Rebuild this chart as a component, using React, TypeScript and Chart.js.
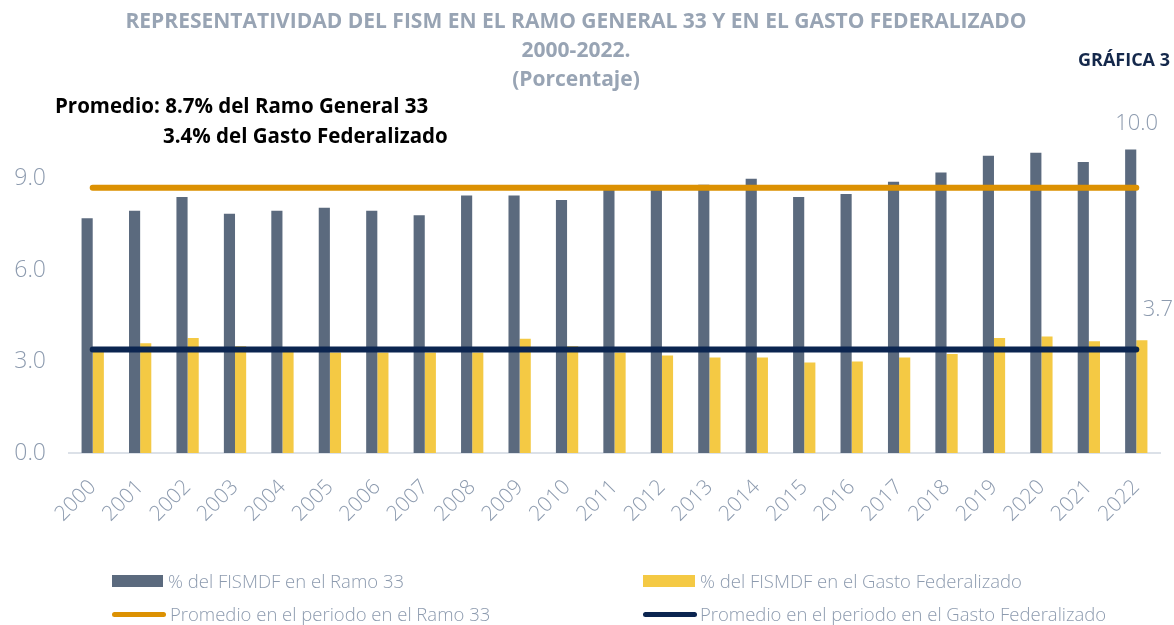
import React, { useEffect, useRef } from "react";
import { Chart, registerables } from "chart.js";

Chart.register(...registerables);

const categories = [
  "2000", "2001", "2002", "2003", "2004", "2005", "2006", "2007", "2008", "2009", "2010", "2011",
  "2012", "2013", "2014", "2015", "2016", "2017", "2018", "2019", "2020", "2021", "2022",
];
const ramo33 = [
  7.7, 7.95, 8.4, 7.85, 7.95, 8.05, 7.95, 7.8, 8.45, 8.45, 8.3, 8.65,
  8.65, 8.8, 9.0, 8.4, 8.5, 8.9, 9.2, 9.75, 9.85, 9.55, 9.96,
];
const gastoFederalizado = [
  3.35, 3.6, 3.77, 3.5, 3.35, 3.3, 3.3, 3.3, 3.3, 3.75, 3.5, 3.3,
  3.2, 3.13, 3.13, 2.97, 3.0, 3.13, 3.25, 3.77, 3.82, 3.67, 3.7,
];
const promedioRamo33 = 8.7;
const promedioGasto = 3.4;
const yTicks = [0, 3, 6, 9];

const seriesNames = [
  "% del FISMDF en el Ramo 33",
  "% del FISMDF en el Gasto Federalizado",
  "Promedio en el periodo en el Ramo 33",
  "Promedio en el periodo en el Gasto Federalizado",
];

const GRAY = "#5B6A7E";
const YELLOW = "#F4C944";
const ORANGE = "#DC9102";
const NAVY = "#0B2550";
const TICK = "#8D9BAF";
const FONT = "'Open Sans', 'Noto Sans', sans-serif";

const endLabels = {
  id: "endLabels",
  afterDatasetsDraw(chart: any) {
    const ctx = chart.ctx;
    const last = categories.length - 1;
    const offs: [number, number, number][] = [[0, 6, 26], [1, 16, 31]];
    offs.forEach(([di, dx, dy]) => {
      const el = chart.getDatasetMeta(di).data[last];
      const v = chart.data.datasets[di].data[last] as number;
      ctx.save();
      ctx.font = `300 22px ${FONT}`;
      ctx.fillStyle = TICK;
      ctx.textAlign = "center";
      ctx.textBaseline = "middle";
      ctx.fillText(v.toFixed(1), el.x + dx, el.y - dy);
      ctx.restore();
    });
  },
};

export default function App() {
  const ref = useRef<HTMLCanvasElement>(null);

  useEffect(() => {
    document.body.style.margin = "0";
    const chart = new Chart(ref.current!, {
      type: "bar",
      data: {
        labels: categories,
        datasets: [
          {
            type: "bar",
            label: seriesNames[0],
            data: ramo33,
            backgroundColor: GRAY,
            order: 2,
            categoryPercentage: 0.47,
            barPercentage: 1,
          },
          {
            type: "bar",
            label: seriesNames[1],
            data: gastoFederalizado,
            backgroundColor: YELLOW,
            order: 2,
            categoryPercentage: 0.47,
            barPercentage: 1,
          },
          {
            type: "line",
            label: seriesNames[2],
            data: categories.map(() => promedioRamo33),
            borderColor: ORANGE,
            backgroundColor: ORANGE,
            borderWidth: 6,
            borderCapStyle: "round",
            pointRadius: 0,
            order: 1,
          },
          {
            type: "line",
            label: seriesNames[3],
            data: categories.map(() => promedioGasto),
            borderColor: NAVY,
            backgroundColor: NAVY,
            borderWidth: 6,
            borderCapStyle: "round",
            pointRadius: 0,
            order: 0,
          },
        ] as any,
      },
      options: {
        animation: false,
        responsive: false,
        maintainAspectRatio: false,
        layout: { padding: { left: 0, right: 14, top: 133, bottom: 0 } },
        plugins: {
          legend: { display: false },
          title: { display: false },
          tooltip: { enabled: false },
        },
        scales: {
          x: {
            grid: { display: false },
            border: { display: true, color: "#DCE1E8", width: 2 },
            ticks: {
              color: TICK,
              font: { family: FONT, size: 21, weight: "300" as any },
              minRotation: 45,
              maxRotation: 45,
              autoSkip: false,
              padding: 14,
            },
            afterFit: (s: any) => {
              s.height = 172;
            },
          },
          y: {
            min: 0,
            max: 10.5,
            grid: { display: false, drawTicks: false },
            border: { display: false },
            afterBuildTicks: (s: any) => {
              s.ticks = yTicks.map((v) => ({ value: v }));
            },
            ticks: {
              color: TICK,
              font: { family: FONT, size: 23, weight: "300" as any },
              padding: 23,
              callback: (v: any) => Number(v).toFixed(1),
            },
            afterFit: (s: any) => {
              s.width = 69;
            },
          },
        },
      },
      plugins: [endLabels],
    });
    return () => chart.destroy();
  }, []);

  const legendText: React.CSSProperties = {
    position: "absolute",
    fontFamily: FONT,
    fontWeight: 300,
    fontSize: 18.5,
    color: TICK,
    whiteSpace: "nowrap",
    lineHeight: "20px",
  };

  return (
    <div style={{ position: "relative", width: 1174, height: 625, overflow: "hidden", background: "#fff" }}>
      <canvas ref={ref} width={1174} height={625} style={{ position: "absolute", left: 0, top: 0 }} />
      <div
        style={{
          position: "absolute",
          left: 0,
          width: 1152,
          top: 6,
          textAlign: "center",
          fontFamily: FONT,
          fontWeight: 700,
          fontSize: 21,
          lineHeight: "29px",
          color: "#98A4B4",
          whiteSpace: "nowrap",
        }}
      >
        <div>REPRESENTATIVIDAD DEL FISM EN EL RAMO GENERAL 33 Y EN EL GASTO FEDERALIZADO</div>
        <div>2000-2022.</div>
        <div>(Porcentaje)</div>
      </div>
      <div
        style={{
          position: "absolute",
          right: 4,
          top: 46,
          fontFamily: FONT,
          fontWeight: 700,
          fontSize: 18,
          lineHeight: "26px",
          color: "#14284B",
        }}
      >
        GRÁFICA 3
      </div>
      <div
        style={{
          position: "absolute",
          left: 55,
          top: 90,
          fontFamily: FONT,
          fontWeight: 700,
          fontSize: 20.5,
          lineHeight: "30px",
          color: "#000",
          whiteSpace: "nowrap",
        }}
      >
        <div>Promedio: 8.7% del Ramo General 33</div>
        <div style={{ paddingLeft: 108 }}>3.4% del Gasto Federalizado</div>
      </div>
      <div style={{ position: "absolute", left: 112, top: 575, width: 51, height: 12, background: GRAY }} />
      <div style={{ ...legendText, left: 168, top: 571 }}>{seriesNames[0]}</div>
      <div style={{ position: "absolute", left: 643, top: 575, width: 52, height: 12, background: YELLOW }} />
      <div style={{ ...legendText, left: 700, top: 571 }}>{seriesNames[1]}</div>
      <div style={{ position: "absolute", left: 112, top: 612, width: 54, height: 5, borderRadius: 3, background: ORANGE }} />
      <div style={{ ...legendText, left: 170, top: 604 }}>{seriesNames[2]}</div>
      <div style={{ position: "absolute", left: 643, top: 612, width: 54, height: 5, borderRadius: 3, background: NAVY }} />
      <div style={{ ...legendText, left: 700, top: 604 }}>{seriesNames[3]}</div>
    </div>
  );
}
